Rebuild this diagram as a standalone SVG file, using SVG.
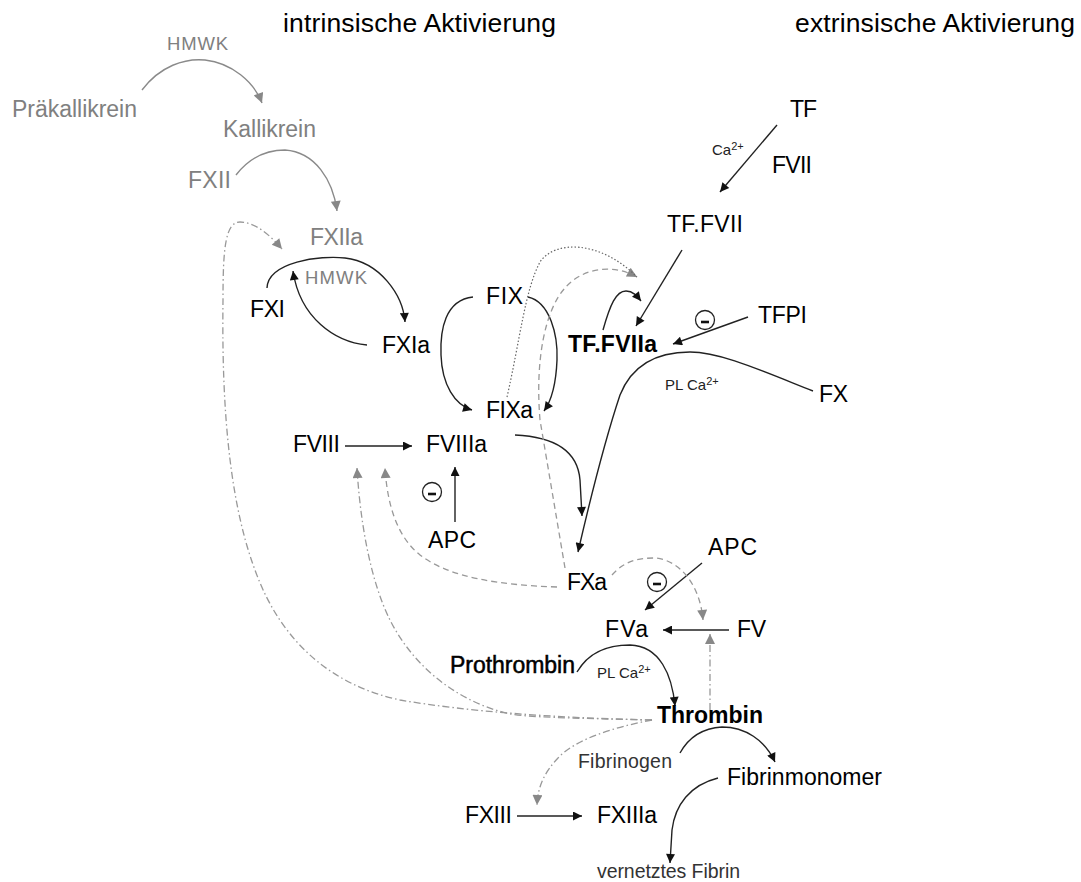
<svg xmlns="http://www.w3.org/2000/svg" width="1081" height="882" viewBox="0 0 1081 882">
<defs>
<style>
text{font-family:"Liberation Sans",Arial,sans-serif;fill:#000}
.t{font-size:26.5px}
.m{font-size:23px}
.b{font-size:23px;font-weight:bold}
.g{fill:#808080}
.s{font-size:18.5px}
.sm{font-size:15px;fill:#222}
.d{fill:#333;font-size:19.5px}
.k{fill:none;stroke:#222;stroke-width:1.4}
.gs{fill:none;stroke:#8a8a8a;stroke-width:1.4}
.dash{fill:none;stroke:#999;stroke-width:1.3;stroke-dasharray:6 4}
.dd{fill:none;stroke:#999;stroke-width:1.3;stroke-dasharray:7 3 1.5 3}
.dot{fill:none;stroke:#666;stroke-width:1.2;stroke-dasharray:1.5 2}
.ci{fill:#fff;stroke:#222;stroke-width:1.3}
.mi{stroke:#111;stroke-width:2.6}
</style>
<marker id="ab" viewBox="0 0 10 10" refX="10" refY="5" markerWidth="11" markerHeight="9" orient="auto" markerUnits="userSpaceOnUse"><path d="M0,0 L10,5 L0,10 z" fill="#111"/></marker>
<marker id="ag" viewBox="0 0 10 10" refX="10" refY="5" markerWidth="12" markerHeight="10" orient="auto" markerUnits="userSpaceOnUse"><path d="M0,0 L10,5 L0,10 z" fill="#888"/></marker>
</defs>
<rect width="1081" height="882" fill="#fff"/>

<g id="titles">
<text class="t" x="283" y="32" textLength="273">intrinsische Aktivierung</text>
<text class="t" x="795" y="32" textLength="280">extrinsische Aktivierung</text>
</g>

<g id="connectors">
<path class="gs" d="M142,90 C160,66 185,58 205,60 C232,63 254,82 262,103" marker-end="url(#ag)"/>
<path class="gs" d="M236,175 C250,157 268,150 285,150 C315,152 333,180 337,211" marker-end="url(#ag)"/>
<path class="k" d="M267,288 C268,262 320,255 345,258 C380,262 403,295 405,322" marker-end="url(#ab)"/>
<path class="k" d="M367,345 C335,342 300,318 293,271" marker-end="url(#ab)"/>
<path class="k" d="M473,297 C445,300 440,330 441,355 C442,385 455,405 472,410" marker-end="url(#ab)"/>
<path class="k" d="M528,297 C550,302 558,335 557,360 C556,385 552,400 544,411" marker-end="url(#ab)"/>
<path class="k" d="M345,446 L412,446" marker-end="url(#ab)"/>
<path class="k" d="M515,435 C560,437 578,455 580,480 L582,516" marker-end="url(#ab)"/>
<path class="k" d="M455,522 L455,467" marker-end="url(#ab)"/>
<path class="k" d="M813,391 C760,370 720,352 690,352 C650,352 630,370 620,395 C605,440 590,500 578,552" marker-end="url(#ab)"/>
<path class="k" d="M748,317 L673,344" marker-end="url(#ab)"/>
<path class="k" d="M682,250 L636,326" marker-end="url(#ab)"/>
<path class="k" d="M603,330 C610,305 616,291 626,291 C633,291 637,296 641,301" marker-end="url(#ab)"/>
<path class="k" d="M777,125 L720,192" marker-end="url(#ab)"/>
<path class="k" d="M702,563 L645,610" marker-end="url(#ab)"/>
<path class="k" d="M729,630 L663,630" marker-end="url(#ab)"/>
<path class="k" d="M577,672 C590,650 610,645 630,645 C660,646 672,675 675,706" marker-end="url(#ab)"/>
<path class="k" d="M680,753 C690,735 705,728 722,727 C745,727 765,740 775,762" marker-end="url(#ab)"/>
<path class="k" d="M718,778 C690,785 675,805 672,830 L670,863" marker-end="url(#ab)"/>
<path class="k" d="M517,816 L582,816" marker-end="url(#ab)"/>
<path class="dash" d="M565,568 L540,420 C535,360 545,310 565,288 C580,270 610,262 637,277" marker-end="url(#ag)"/>
<path class="dot" d="M507,397 C520,340 525,290 540,262 C555,240 600,240 637,277"/>
<path class="dash" d="M557,587 C500,585 450,578 420,555 C395,535 387,500 385,468" marker-end="url(#ag)"/>
<path class="dash" d="M612,575 C625,560 640,558 655,558 C680,560 700,585 703,620" marker-end="url(#ag)"/>
<path class="dd" d="M710,710 L710,634" marker-end="url(#ag)"/>
<path class="dd" d="M652,720 C560,718 470,712 400,700 C330,685 280,640 255,570 C225,490 222,380 223,300 C223,250 225,222 240,222 C255,222 270,235 282,249" marker-end="url(#ag)"/>
<path class="dd" d="M652,720 C560,718 530,717 510,714 C450,700 410,660 390,620 C370,580 360,520 357,468" marker-end="url(#ag)"/>
<path class="dd" d="M652,720 C610,728 575,740 558,758 C545,772 538,785 537,805" marker-end="url(#ag)"/>
</g>

<g id="inhibitors">
<circle class="ci" cx="432" cy="492" r="9.5"/><line class="mi" x1="428" y1="494" x2="436" y2="494"/>
<circle class="ci" cx="705" cy="320" r="9.5"/><line class="mi" x1="701" y1="322" x2="709" y2="322"/>
<circle class="ci" cx="657" cy="582" r="9.5"/><line class="mi" x1="653" y1="584" x2="661" y2="584"/>
</g>

<g id="n-hmwk1"><text class="g s" x="167" y="50" textLength="61">HMWK</text></g>
<g id="n-praekallikrein"><text class="g m" x="12" y="117" textLength="125">Präkallikrein</text></g>
<g id="n-kallikrein"><text class="g m" x="223" y="137" textLength="93">Kallikrein</text></g>
<g id="n-fxii"><text class="g m" x="188" y="188" textLength="43">FXII</text></g>
<g id="n-fxiia"><text class="g m" x="310" y="245" textLength="53">FXIIa</text></g>
<g id="n-hmwk2"><text class="g s" x="305" y="284" textLength="62">HMWK</text></g>
<g id="n-fxi"><text class="m" x="250" y="317" textLength="35">FXI</text></g>
<g id="n-fxia"><text class="m" x="382" y="353" textLength="48">FXIa</text></g>
<g id="n-fix"><text class="m" x="486" y="304" textLength="37">FIX</text></g>
<g id="n-fixa"><text class="m" x="486" y="418" textLength="47">FIXa</text></g>
<g id="n-fviii"><text class="m" x="293" y="452" textLength="47">FVIII</text></g>
<g id="n-fviiia"><text class="m" x="426" y="452" textLength="61">FVIIIa</text></g>
<g id="n-apc1"><text class="m" x="428" y="548" textLength="48">APC</text></g>
<g id="n-fxa"><text class="m" x="567" y="590" textLength="40">FXa</text></g>
<g id="n-tf"><text class="m" x="790" y="117" textLength="27">TF</text></g>
<g id="n-ca1"><text class="sm" x="712" y="155">Ca<tspan font-size="11" dy="-5">2+</tspan></text></g>
<g id="n-fvii"><text class="m" x="772" y="173" textLength="40">FVII</text></g>
<g id="n-tffvii"><text class="m" x="667" y="232" textLength="76">TF.FVII</text></g>
<g id="n-tffviia"><text class="b" x="568" y="352" textLength="89">TF.FVIIa</text></g>
<g id="n-tfpi"><text class="m" x="758" y="323" textLength="49">TFPI</text></g>
<g id="n-fx"><text class="m" x="819" y="402" textLength="29">FX</text></g>
<g id="n-plca1"><text class="sm" x="665" y="390">PL Ca<tspan font-size="11" dy="-5">2+</tspan></text></g>
<g id="n-apc2"><text class="m" x="708" y="555" textLength="49">APC</text></g>
<g id="n-fva"><text class="m" x="605" y="637" textLength="43">FVa</text></g>
<g id="n-fv"><text class="m" x="737" y="637" textLength="29">FV</text></g>
<g id="n-prothrombin"><text class="m" x="450" y="673" textLength="125" style="stroke:#000;stroke-width:0.5">Prothrombin</text></g>
<g id="n-plca2"><text class="sm" x="597" y="678">PL Ca<tspan font-size="11" dy="-5">2+</tspan></text></g>
<g id="n-thrombin"><text class="b" x="657" y="723" textLength="106">Thrombin</text></g>
<g id="n-fibrinogen"><text class="d" x="578" y="768" textLength="94">Fibrinogen</text></g>
<g id="n-fibrinmonomer"><text class="m" x="727" y="785" textLength="155">Fibrinmonomer</text></g>
<g id="n-fxiii"><text class="m" x="465" y="823" textLength="47">FXIII</text></g>
<g id="n-fxiiia"><text class="m" x="597" y="823" textLength="60">FXIIIa</text></g>
<g id="n-fibrin"><text class="d" x="597" y="878" textLength="143">vernetztes Fibrin</text></g>
</svg>
